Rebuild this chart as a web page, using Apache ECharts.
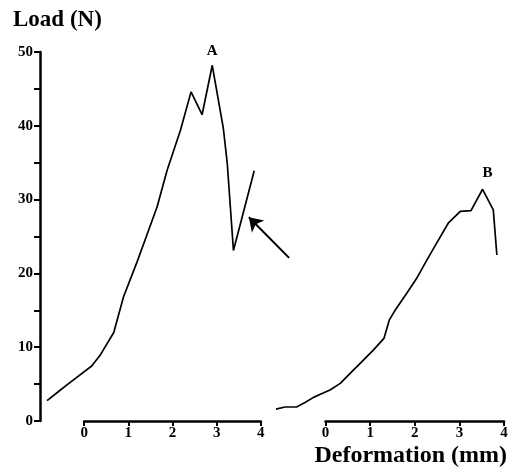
<!DOCTYPE html>
<html>
<head>
<meta charset="utf-8">
<script src="https://cdn.jsdelivr.net/npm/echarts@6/dist/echarts.min.js"></script>
<style>
  html, body { margin: 0; padding: 0; background: #fff; }
  #chart { width: 515px; height: 474px; }
</style>
</head>
<body>
<div id="chart"></div>
<script>
// curve A (deformation mm, load N)
const curveAx = [-0.84, -0.58, -0.39, 0.17, 0.36, 0.67, 0.89, 1.2, 1.42, 1.65, 1.88, 2.18, 2.42, 2.67, 2.9, 3.15, 3.24, 3.38, 3.85];
const curveAy = [2.75, 4.0, 4.9, 7.45, 8.9, 12.0, 16.8, 21.6, 25.2, 29.0, 34.0, 39.4, 44.6, 41.5, 48.2, 39.7, 34.9, 23.1, 33.9];
// curve B
const curveBx = [-1.11, -0.91, -0.65, -0.46, -0.27, -0.09, 0.1, 0.33, 0.59, 0.81, 1.07, 1.31, 1.43, 1.56, 1.82, 2.04, 2.27, 2.49, 2.75, 3.02, 3.26, 3.52, 3.76, 3.84];
const curveBy = [1.6, 1.9, 1.9, 2.5, 3.2, 3.7, 4.2, 5.1, 6.7, 8.0, 9.6, 11.2, 13.7, 15.0, 17.3, 19.3, 21.8, 24.1, 26.8, 28.4, 28.5, 31.4, 28.6, 22.5];
const peakA = [2.9, 48.2];
const peakB = [3.52, 31.4];
// arrow pointing at curve A (tail -> head)
const arrowFrom = [4.64, 22.1];
const arrowTo = [3.73, 27.6];
const xTicks = [0, 1, 2, 3, 4];
const yTicks = [0, 10, 20, 30, 40, 50];

const font = "Liberation Serif";
const pairs = (xs, ys) => xs.map((x, i) => [x, ys[i]]);

let chart = echarts.init(document.getElementById("chart"));

const hiddenAxis = (min, max, grid) => ({
  type: "value", gridIndex: grid, min: min, max: max, show: false,
});

const shownX = (grid) => ({
  type: "value",
  gridIndex: grid,
  min: xTicks[0],
  max: xTicks[xTicks.length - 1],
  interval: 1,
  axisLine: { show: true, onZero: false, lineStyle: { color: "#000", width: 2.5 } },
  axisTick: { show: true, length: 5, lineStyle: { color: "#000", width: 2 } },
  splitLine: { show: false },
  axisLabel: {
    color: "#000", fontFamily: font, fontWeight: "bold", fontSize: 15, margin: 5,
  },
});

let option = {
  animation: false,
  backgroundColor: "#fff",
  title: [
    {
      text: "Load (N)", left: 8, top: 4,
      textStyle: { fontFamily: font, fontWeight: "bold", fontSize: 23, color: "#000" },
    },
    {
      text: "Deformation (mm)", right: 3, top: 439,
      textStyle: { fontFamily: font, fontWeight: "bold", fontSize: 24, color: "#000" },
    },
  ],
  grid: [
    { left: 40, top: 52, width: 265, height: 369 },      // data A (range -1..5)
    { left: 84.17, top: 52, width: 176.67, height: 369 }, // visible x axis A
    { left: 272, top: 52, width: 232, height: 369 },     // data B (range -1.2..4)
    { left: 325.54, top: 52, width: 178.46, height: 369 }, // visible x axis B
  ],
  xAxis: [
    hiddenAxis(-1, 5, 0),
    shownX(1),
    hiddenAxis(-1.2, 4, 2),
    shownX(3),
  ],
  yAxis: [
    {
      type: "value",
      gridIndex: 0,
      min: yTicks[0],
      max: yTicks[yTicks.length - 1],
      interval: 10,
      axisLine: { show: true, onZero: false, lineStyle: { color: "#000", width: 2.5 } },
      axisTick: { show: true, length: 6, lineStyle: { color: "#000", width: 2 } },
      minorTick: { show: true, splitNumber: 2, length: 6, lineStyle: { color: "#000", width: 2 } },
      splitLine: { show: false },
      axisLabel: {
        color: "#000", fontFamily: font, fontWeight: "bold", fontSize: 15, margin: 7,
      },
    },
    hiddenAxis(0, 50, 1),
    hiddenAxis(0, 50, 2),
    hiddenAxis(0, 50, 3),
  ],
  series: [
    {
      type: "line",
      xAxisIndex: 0,
      yAxisIndex: 0,
      data: pairs(curveAx, curveAy),
      showSymbol: false,
      lineStyle: { color: "#000", width: 1.7 },
      markPoint: {
        symbol: "circle",
        symbolSize: 0,
        label: {
          show: true, formatter: "A", position: "top", distance: 7,
          color: "#000", fontFamily: font, fontWeight: "bold", fontSize: 15,
        },
        data: [{ coord: peakA }],
      },
      markLine: {
        silent: true,
        symbol: ["none", "arrow"],
        symbolSize: 13,
        label: { show: false },
        lineStyle: { color: "#000", width: 2, type: "solid" },
        data: [[{ coord: arrowFrom }, { coord: arrowTo }]],
      },
    },
    {
      type: "line",
      xAxisIndex: 2,
      yAxisIndex: 2,
      data: pairs(curveBx, curveBy),
      showSymbol: false,
      lineStyle: { color: "#000", width: 1.7 },
      markPoint: {
        symbol: "circle",
        symbolSize: 0,
        label: {
          show: true, formatter: "B", position: "top", distance: 9, offset: [5, 0],
          color: "#000", fontFamily: font, fontWeight: "bold", fontSize: 15,
        },
        data: [{ coord: peakB }],
      },
    },
  ],
};
chart.setOption(option);
</script>
</body>
</html>
